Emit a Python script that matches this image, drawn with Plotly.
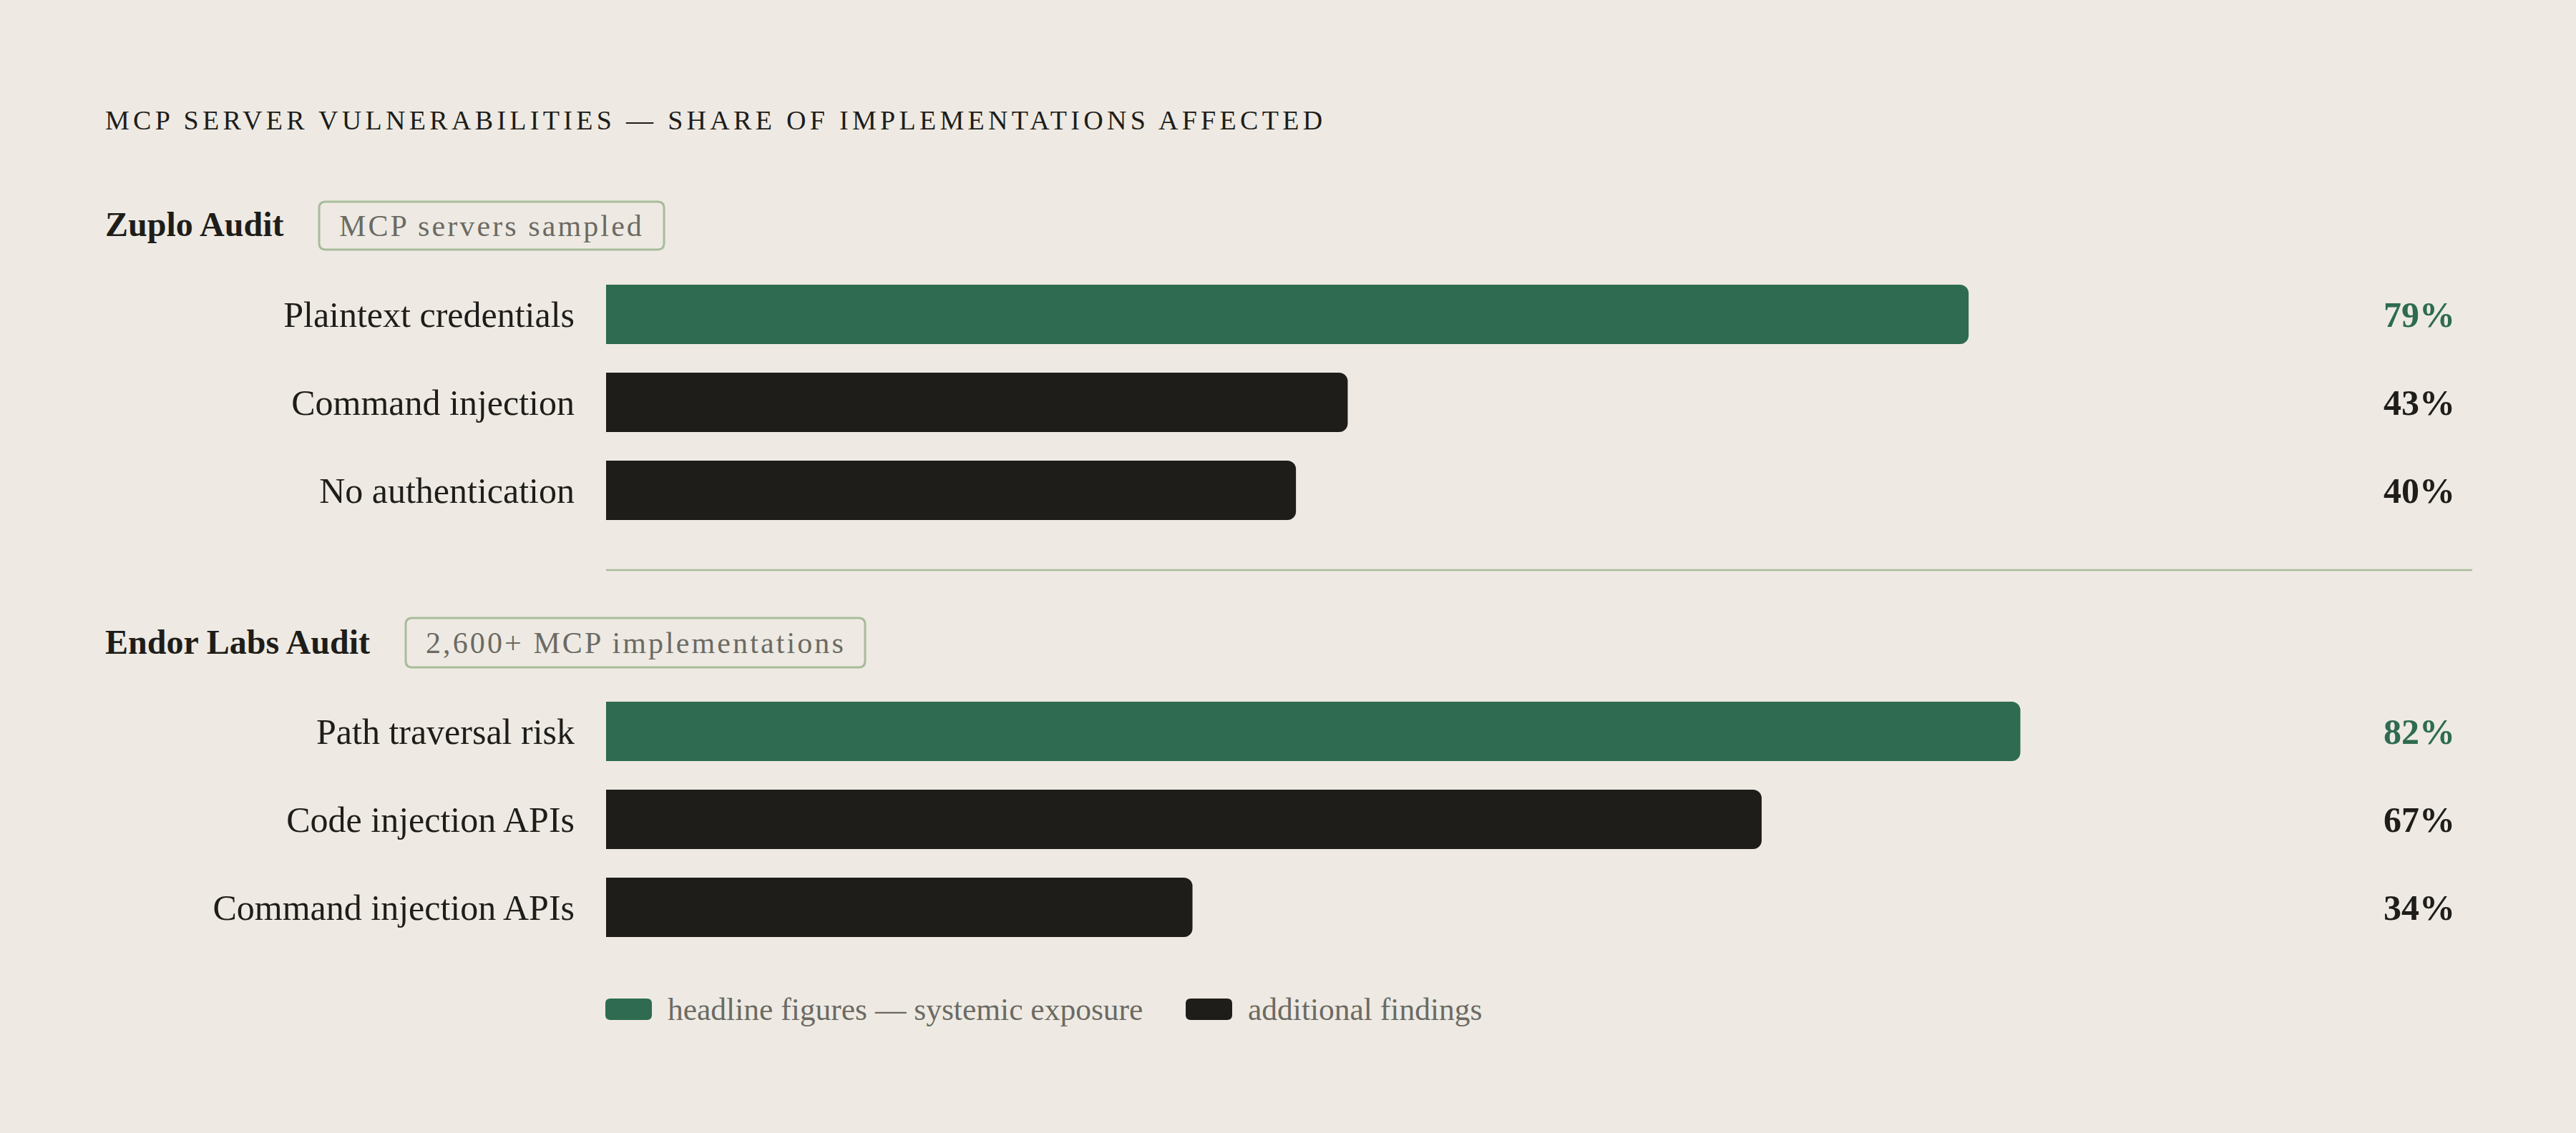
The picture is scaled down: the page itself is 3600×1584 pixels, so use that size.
import plotly.graph_objects as go

W, H = 3600, 1584

TITLE = "MCP SERVER VULNERABILITIES — SHARE OF IMPLEMENTATIONS AFFECTED"

group_names = ["Zuplo Audit", "Endor Labs Audit"]
group_badges = ["MCP servers sampled", "2,600+ MCP implementations"]

zuplo_labels = ["Plaintext credentials", "Command injection", "No authentication"]
zuplo_values = [79, 43, 40]
zuplo_headline = [True, False, False]

endor_labels = ["Path traversal risk", "Code injection APIs", "Command injection APIs"]
endor_values = [82, 67, 34]
endor_headline = [True, False, False]

legend_labels = ["headline figures — systemic exposure", "additional findings"]

BG = "#eeeae3"
GREEN = "#2e6b51"
INK = "#1e1d1a"
MUTED = "#6c6a63"
RULE = "#a8bc9c"
FONT = "Liberation Serif"


def px(x):
    return x / W


def py(y):
    return 1 - y / H


def rounded_rect(x0, y0, x1, y1, r):
    # pixel box (top-left origin) -> svg path in paper coords
    pts = [
        ("M", [(x0 + r, y0)]),
        ("L", [(x1 - r, y0)]),
        ("Q", [(x1, y0), (x1, y0 + r)]),
        ("L", [(x1, y1 - r)]),
        ("Q", [(x1, y1), (x1 - r, y1)]),
        ("L", [(x0 + r, y1)]),
        ("Q", [(x0, y1), (x0, y1 - r)]),
        ("L", [(x0, y0 + r)]),
        ("Q", [(x0, y0), (x0 + r, y0)]),
    ]
    s = ""
    for cmd, coords in pts:
        s += cmd + " " + " ".join(f"{px(a):.5f},{py(b):.5f}" for a, b in coords) + " "
    return s + "Z"


fig = go.Figure()

groups = [
    (zuplo_labels, zuplo_values, zuplo_headline, "x", "y"),
    (endor_labels, endor_values, endor_headline, "x2", "y2"),
]

for labels, values, headline, xa, ya in groups:
    fig.add_trace(go.Bar(
        x=values,
        y=labels,
        orientation="h",
        marker=dict(
            color=[GREEN if h else INK for h in headline],
            line=dict(width=0),
            cornerradius=12,
        ),
        xaxis=xa,
        yaxis=ya,
        hoverinfo="skip",
        showlegend=False,
    ))
    for lbl, v, h in zip(labels, values, headline):
        fig.add_annotation(
            x=px(3433), xref="paper", y=lbl, yref=ya,
            text=f"<b>{v}%</b>", showarrow=False, xanchor="right", yanchor="middle",
            font=dict(family=FONT, size=50, color=GREEN if h else INK),
        )

xdom = [px(847), px(3455)]
xaxis_style = dict(range=[0, 108.2], visible=False, fixedrange=True, domain=xdom)
yaxis_style = dict(
    type="category", autorange="reversed", showgrid=False, zeroline=False,
    showline=False, ticks="", ticklabelstandoff=43,
    tickfont=dict(family=FONT, size=50, color=INK), fixedrange=True,
)

fig.update_layout(
    width=W, height=H,
    paper_bgcolor=BG, plot_bgcolor=BG,
    margin=dict(l=0, r=0, t=0, b=0),
    bargap=0.325,
    font=dict(family=FONT, color=INK),
    xaxis=dict(**xaxis_style, anchor="y"),
    xaxis2=dict(**xaxis_style, anchor="y2"),
    yaxis=dict(**yaxis_style, domain=[py(747), py(378)], anchor="x",
               categoryarray=zuplo_labels, categoryorder="array"),
    yaxis2=dict(**yaxis_style, domain=[py(1330), py(961)], anchor="x2",
                categoryarray=endor_labels, categoryorder="array"),
)

# title
fig.add_annotation(
    x=px(145), y=py(168), xref="paper", yref="paper",
    text=f'<span style="letter-spacing:5.3px">{TITLE}</span>',
    showarrow=False, xanchor="left", yanchor="middle",
    font=dict(family=FONT, size=38, color=INK),
)

# group headers with badges
header_y = [314, 897]
badge_boxes = [(446, 282, 928, 349), (567, 864, 1209, 933)]
for name, badge, hy, (bx0, by0, bx1, by1) in zip(group_names, group_badges, header_y, badge_boxes):
    fig.add_annotation(
        x=px(145), y=py(hy), xref="paper", yref="paper",
        text=f"<b>{name}</b>", showarrow=False, xanchor="left", yanchor="middle",
        font=dict(family=FONT, size=48, color=INK),
    )
    fig.add_shape(
        type="path", path=rounded_rect(bx0, by0, bx1, by1, 9),
        xref="paper", yref="paper", line=dict(color=RULE, width=3), fillcolor="rgba(0,0,0,0)",
    )
    fig.add_annotation(
        x=px((bx0 + bx1) / 2), y=py((by0 + by1) / 2), xref="paper", yref="paper",
        text=f'<span style="letter-spacing:3.1px">{badge}</span>',
        showarrow=False, xanchor="center", yanchor="middle",
        font=dict(family=FONT, size=42, color=MUTED),
    )

# divider between groups
fig.add_shape(
    type="line", x0=px(847), x1=px(3455), y0=py(797), y1=py(797),
    xref="paper", yref="paper", line=dict(color=RULE, width=2.5),
)

# legend
swatch_x = [846, 1657]
swatch_colors = [GREEN, INK]
for sx, col, lbl in zip(swatch_x, swatch_colors, legend_labels):
    fig.add_shape(
        type="path", path=rounded_rect(sx, 1396, sx + 65, 1426, 7),
        xref="paper", yref="paper", line=dict(width=0), fillcolor=col,
    )
    fig.add_annotation(
        x=px(sx + 85), y=py(1411), xref="paper", yref="paper",
        text=lbl, showarrow=False, xanchor="left", yanchor="middle",
        font=dict(family=FONT, size=43.5, color=MUTED),
    )

fig.write_html(
    "out.html",
    config={"displayModeBar": False},
    post_script="document.body.style.margin='0';document.body.style.background='#eeeae3';",
)
